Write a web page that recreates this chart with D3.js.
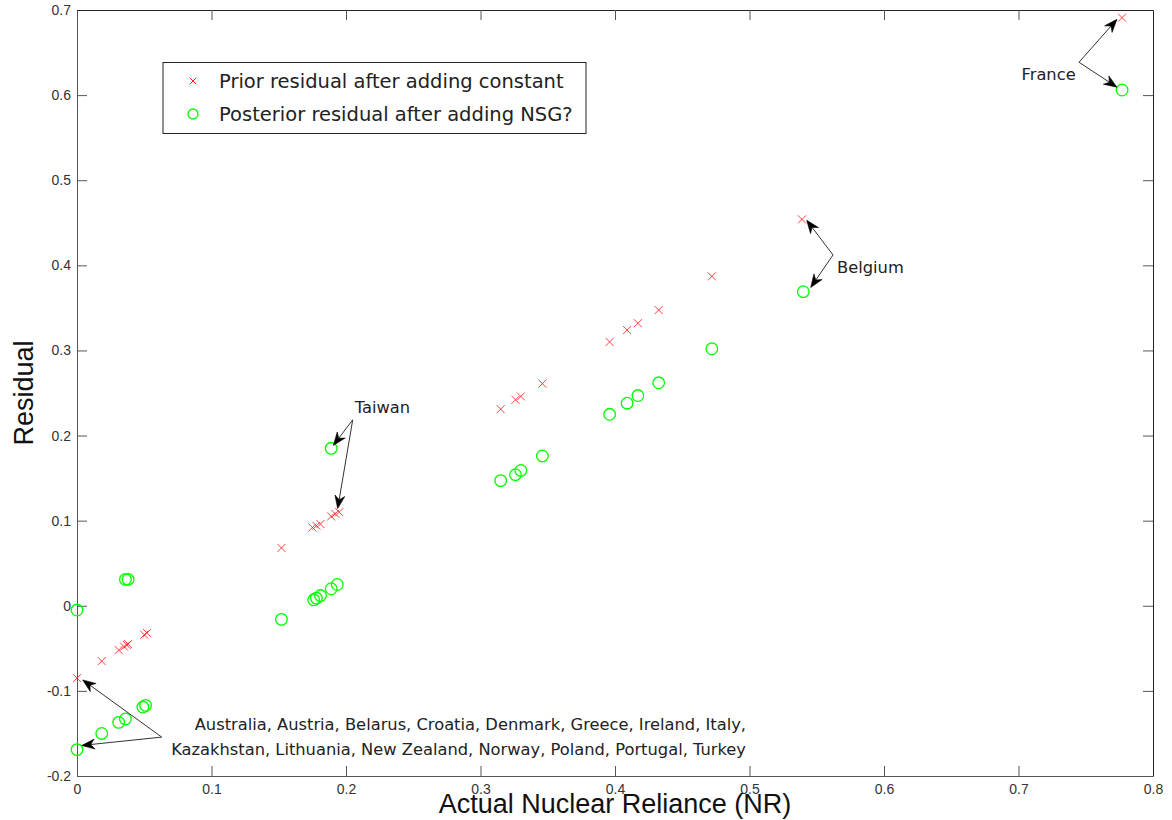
<!DOCTYPE html>
<html>
<head>
<meta charset="utf-8">
<script src="https://cdn.jsdelivr.net/npm/d3@7"></script>
<style>
  body { margin: 0; background: #fff; }
  svg { display: block; }
</style>
</head>
<body>
<svg id="chart" width="1172" height="820"></svg>
<script>
// Axis ticks
const xTicks = [0, 0.1, 0.2, 0.3, 0.4, 0.5, 0.6, 0.7, 0.8];
const xTickLabels = ["0", "0.1", "0.2", "0.3", "0.4", "0.5", "0.6", "0.7", "0.8"];
const yTicks = [-0.2, -0.1, 0, 0.1, 0.2, 0.3, 0.4, 0.5, 0.6, 0.7];
const yTickLabels = ["-0.2", "-0.1", "0", "0.1", "0.2", "0.3", "0.4", "0.5", "0.6", "0.7"];

// Series names
const seriesNames = ["Prior residual after adding constant", "Posterior residual after adding NSG?"];

// Prior residuals (red crosses): nuclear reliance and residual
const priorNR = [0, 0.0184, 0.031, 0.035, 0.037, 0.038, 0.050, 0.052,
  0.152, 0.175, 0.178, 0.181, 0.189, 0.192, 0.195,
  0.315, 0.326, 0.330, 0.346, 0.396, 0.409, 0.417, 0.4325, 0.472, 0.539, 0.777];
const priorResidual = [-0.085, -0.065, -0.052, -0.048, -0.046, -0.045, -0.034, -0.032,
  0.068, 0.092, 0.094, 0.096, 0.105, 0.108, 0.110,
  0.231, 0.242, 0.246, 0.261, 0.310, 0.324, 0.332, 0.3475, 0.387, 0.454, 0.691];

// Posterior residuals (green circles)
const posteriorNR = [0, 0, 0.0184, 0.031, 0.036, 0.036, 0.038, 0.049, 0.051,
  0.152, 0.176, 0.178, 0.181, 0.189, 0.1935, 0.189,
  0.315, 0.326, 0.330, 0.346, 0.396, 0.409, 0.417, 0.4325, 0.472, 0.540, 0.777];
const posteriorResidual = [-0.169, -0.005, -0.150, -0.137, -0.133, 0.031, 0.031, -0.119, -0.117,
  -0.016, 0.007, 0.009, 0.012, 0.020, 0.025, 0.185,
  0.147, 0.154, 0.159, 0.176, 0.225, 0.238, 0.247, 0.262, 0.302, 0.369, 0.606];

// Annotation labels: text lines, anchor point, arrow tail and arrow tips (data units)
const annotationText = [
  ["France"],
  ["Belgium"],
  ["Taiwan"],
  ["Australia, Austria, Belarus, Croatia, Denmark, Greece, Ireland, Italy,",
   "Kazakhstan, Lithuania, New Zealand, Norway, Poland, Portugal, Turkey"]
];
const annotationTextPos = [[0.7425, 0.6175], [0.5651, 0.3912], [0.2065, 0.227], [0.4974, -0.1457]];
const annotationAnchor = ["end", "start", "start", "end"];
const annotationTail = [[0.745, 0.6386], [0.5621, 0.4122], [0.2050, 0.2185], [0.0630, -0.1543]];
const annotationTips = [
  [[0.7732, 0.6890], [0.7732, 0.6093]],
  [[0.5425, 0.4530], [0.5455, 0.3740]],
  [[0.1906, 0.1884], [0.1938, 0.1142]],
  [[0.0042, -0.0871], [0.0035, -0.1641]]
];

const svg = d3.select("#chart");
const plot = { left: 77, right: 1153, top: 10, bottom: 776 };

const x = d3.scaleLinear().domain([0, 0.8]).range([plot.left, plot.right]);
const y = d3.scaleLinear().domain([-0.2, 0.7]).range([plot.bottom, plot.top]);

const tickFont = "'Liberation Sans', Arial, sans-serif";
const textFont = "'DejaVu Sans', sans-serif";

// Axes: ticks point inward on all four sides
const gBottom = svg.append("g").attr("transform", `translate(0,${plot.bottom})`)
  .call(d3.axisBottom(x).tickValues(xTicks).tickSizeInner(-10).tickSizeOuter(0).tickPadding(8)
    .tickFormat((d, i) => xTickLabels[i]));
const gLeft = svg.append("g").attr("transform", `translate(${plot.left},0)`)
  .call(d3.axisLeft(y).tickValues(yTicks).tickSizeInner(-10).tickSizeOuter(0).tickPadding(6)
    .tickFormat((d, i) => yTickLabels[i]));
const gTop = svg.append("g").attr("transform", `translate(0,${plot.top})`)
  .call(d3.axisTop(x).tickValues(xTicks).tickSizeInner(-10).tickSizeOuter(0).tickFormat(""));
const gRight = svg.append("g").attr("transform", `translate(${plot.right},0)`)
  .call(d3.axisRight(y).tickValues(yTicks).tickSizeInner(-10).tickSizeOuter(0).tickFormat(""));

[gBottom, gLeft].forEach(g => {
  g.select(".domain").attr("stroke", "#555");
  g.selectAll(".tick line").attr("stroke", "#555");
  g.selectAll(".tick text").attr("font-family", tickFont).attr("font-size", 14).attr("fill", "#333");
});
[gTop, gRight].forEach(g => {
  g.select(".domain").attr("stroke", "#222");
  g.selectAll(".tick line").attr("stroke", "#555");
});
// Hide the end ticks that sit on the frame corners
gTop.selectAll(".tick").filter(d => d === 0 || d === 0.8).select("line").remove();
gRight.selectAll(".tick").filter(d => d === -0.2 || d === 0.7).select("line").remove();

// Axis titles
svg.append("text")
  .attr("x", (plot.left + plot.right) / 2).attr("y", 813)
  .attr("text-anchor", "middle")
  .attr("font-family", tickFont).attr("font-size", 27).attr("fill", "#111")
  .text("Actual Nuclear Reliance (NR)");
svg.append("text")
  .attr("transform", `translate(33,${(plot.top + plot.bottom) / 2}) rotate(-90)`)
  .attr("text-anchor", "middle")
  .attr("font-family", tickFont).attr("font-size", 27).attr("fill", "#111")
  .text("Residual");

// Markers
const crossPath = s => `M${-s},${-s}L${s},${s}M${-s},${s}L${s},${-s}`;

svg.append("g").selectAll("path")
  .data(priorNR.map((v, i) => [v, priorResidual[i]]))
  .join("path")
  .attr("transform", d => `translate(${x(d[0])},${y(d[1])})`)
  .attr("d", crossPath(4))
  .attr("fill", "none").attr("stroke", "#ff2020").attr("stroke-width", 1).attr("stroke-opacity", 0.85);

svg.append("g").selectAll("circle")
  .data(posteriorNR.map((v, i) => [v, posteriorResidual[i]]))
  .join("circle")
  .attr("cx", d => x(d[0])).attr("cy", d => y(d[1])).attr("r", 5.8)
  .attr("fill", "none").attr("stroke", "#00ff00").attr("stroke-width", 1.3);

// Legend
const legend = svg.append("g");
legend.append("rect")
  .attr("x", 163).attr("y", 62.5).attr("width", 423).attr("height", 71)
  .attr("fill", "#fff").attr("stroke", "#222").attr("stroke-width", 1);
legend.append("path")
  .attr("transform", "translate(193,81)").attr("d", crossPath(3.2))
  .attr("fill", "none").attr("stroke", "#ff2020").attr("stroke-width", 1);
legend.append("circle")
  .attr("cx", 193).attr("cy", 114).attr("r", 5)
  .attr("fill", "none").attr("stroke", "#00ff00").attr("stroke-width", 1.3);
seriesNames.forEach((name, i) => {
  legend.append("text")
    .attr("x", 219).attr("y", 87.5 + i * 33)
    .attr("font-family", textFont).attr("font-size", 19.5).attr("fill", "#222")
    .text(name);
});

// Annotation arrows with filled, notched heads
function arrowHead(tail, tip) {
  const dx = tip[0] - tail[0], dy = tip[1] - tail[1];
  const len = Math.hypot(dx, dy);
  const ux = dx / len, uy = dy / len, nx = -uy, ny = ux;
  const L = 13, W = 5, N = 9;
  const p = (a, b) => [tip[0] - ux * a + nx * b, tip[1] - uy * a + ny * b];
  return [tip, p(L, W), p(N, 0), p(L, -W)];
}

const ann = svg.append("g");
annotationTail.forEach((tailD, i) => {
  const tail = [x(tailD[0]), y(tailD[1])];
  annotationTips[i].forEach(tipD => {
    const tip = [x(tipD[0]), y(tipD[1])];
    const head = arrowHead(tail, tip);
    ann.append("line")
      .attr("x1", tail[0]).attr("y1", tail[1]).attr("x2", head[2][0]).attr("y2", head[2][1])
      .attr("stroke", "#333").attr("stroke-width", 1);
    ann.append("path")
      .attr("d", "M" + head.map(p => p.join(",")).join("L") + "Z")
      .attr("fill", "#000").attr("stroke", "#000").attr("stroke-width", 0.6);
  });
  const t = ann.append("text")
    .attr("x", x(annotationTextPos[i][0])).attr("y", y(annotationTextPos[i][1]))
    .attr("text-anchor", annotationAnchor[i])
    .attr("font-family", textFont).attr("font-size", 16.3).attr("fill", "#222");
  annotationText[i].forEach((line, j) => {
    t.append("tspan").attr("x", x(annotationTextPos[i][0])).attr("dy", j === 0 ? 0 : 25).text(line);
  });
});
</script>
</body>
</html>
